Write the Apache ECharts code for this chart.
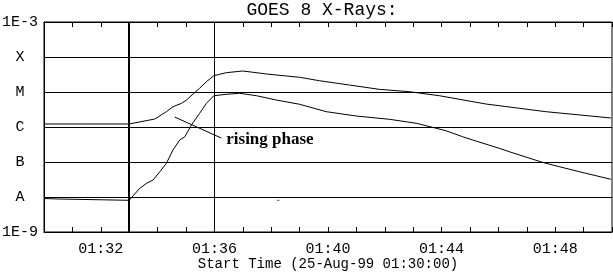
<!DOCTYPE html>
<html>
<head>
<meta charset="utf-8">
<script src="https://cdn.jsdelivr.net/npm/echarts@6/dist/echarts.min.js"></script>
<style>
  html, body { margin: 0; padding: 0; background: #fff; }
  #chart { width: 613px; height: 275px; }
</style>
</head>
<body>
<div id="chart"></div>
<script>
// Minutes after 01:30:00 and flux (W/m^2)
var longTimes = [0, 1.5, 3.0, 3.90, 4.31, 4.54, 4.84, 5.02, 5.25, 5.48, 5.72, 5.98, 6.42, 6.99, 7.36, 7.83, 9.00, 9.70, 10.76, 11.81, 12.86, 13.92, 15.56, 17.67, 19.96];
var longFlux  = [1.22e-6, 1.22e-6, 1.22e-6, 1.69e-6, 2.74e-6, 3.80e-6, 4.75e-6, 5.90e-6, 8.77e-6, 1.28e-5, 1.97e-5, 2.92e-5, 3.56e-5, 3.98e-5, 3.66e-5, 3.27e-5, 2.63e-5, 2.10e-5, 1.58e-5, 1.19e-5, 1.02e-5, 7.83e-6, 4.54e-6, 2.74e-6, 1.81e-6];

var shortTimes = [0, 0.5, 0.55, 3.0, 3.37, 3.61, 3.84, 4.08, 4.31, 4.54, 4.78, 4.96, 5.19, 5.48, 5.72, 5.98, 6.42, 6.89, 7.48, 8.18, 9.00, 9.94, 10.99, 12.16, 13.10, 13.68, 14.15, 14.74, 15.09, 16.03, 16.38, 17.55, 18.14, 19.08, 19.96];
var shortFlux  = [9.06e-9, 8.77e-9, 8.05e-9, 8.05e-9, 1.77e-8, 2.46e-8, 3.06e-8, 5.28e-8, 9.18e-8, 2.20e-7, 4.26e-7, 5.28e-7, 1.14e-6, 2.46e-6, 4.75e-6, 7.83e-6, 8.59e-6, 9.18e-6, 7.83e-6, 5.90e-6, 4.46e-6, 2.74e-6, 2.06e-6, 1.66e-6, 1.28e-6, 9.79e-7, 7.83e-7, 5.28e-7, 4.26e-7, 2.46e-7, 1.97e-7, 9.79e-8, 7.35e-8, 4.75e-8, 3.21e-8];

var dotTimes = [8.25];
var dotFlux  = [8.05e-9];

// Y tick labels, from 1E-9 up to 1E-3
var yExponents  = [-9, -8, -7, -6, -5, -4, -3];
var yTickLabels = ['1E-9', 'A', 'B', 'C', 'M', 'X', '1E-3'];
// X tick labels (minutes after 01:30)
var xLabelMinutes = [2, 6, 10, 14, 18];
var xTickLabels   = ['01:32', '01:36', '01:40', '01:44', '01:48'];

// Marker lines (minutes) and annotation
var thickMarkMinute = 3;
var thinMarkMinute = 6;
var xClassFlux = 1e-4;
var annotText = 'rising phase';
var annotFrom = [4.60, 1.93e-6];
var annotTo   = [6.24, 4.85e-7];
var annotTextAt = [6.40, 4.27e-7];

function zip(a, b) { return a.map(function (v, i) { return [v, b[i]]; }); }

var monoFont = '"Liberation Mono", "DejaVu Sans Mono", monospace';

var chart = echarts.init(document.getElementById('chart'), null, { renderer: 'canvas' });
chart.setOption({
  animation: false,
  backgroundColor: '#ffffff',
  title: {
    text: 'GOES 8 X-Rays:',
    left: 322, top: 1, textAlign: 'center', padding: 0,
    textStyle: { fontFamily: monoFont, fontSize: 18, fontWeight: 'normal', color: '#000' }
  },
  grid: { left: 44, right: 1, top: 22, bottom: 43, containLabel: false, outerBoundsMode: 'none',
          show: true, borderColor: '#000', borderWidth: 1, backgroundColor: 'transparent' },
  xAxis: [{
    type: 'value', min: 0, max: 20, interval: 1, position: 'bottom',
    axisLine: { show: true, lineStyle: { color: '#000', width: 1 } },
    axisTick: { show: true, inside: true, length: 5, lineStyle: { color: '#000' } },
    splitLine: { show: false },
    axisLabel: {
      margin: 10, color: '#000', fontFamily: monoFont, fontSize: 15,
      formatter: function (v) { var i = xLabelMinutes.indexOf(Math.round(v)); return i >= 0 ? xTickLabels[i] : ''; }
    },
    name: 'Start Time (25-Aug-99 01:30:00)', nameLocation: 'middle', nameGap: 25, nameMoveOverlap: false,
    nameTextStyle: { color: '#000', fontFamily: monoFont, fontSize: 14, verticalAlign: 'top' }
  }, {
    type: 'value', min: 0, max: 20, interval: 1, position: 'top',
    axisLine: { show: true, lineStyle: { color: '#000', width: 1 } },
    axisTick: { show: true, inside: true, length: 5, lineStyle: { color: '#000' } },
    splitLine: { show: false },
    axisLabel: { show: false }
  }],
  yAxis: {
    type: 'log', logBase: 10, min: 1e-9, max: 1e-3,
    axisLine: { show: true, lineStyle: { color: '#000' } },
    axisTick: { show: false },
    splitLine: { show: true, lineStyle: { color: '#000', width: 1 } },
    axisLabel: {
      margin: 24, align: 'center', color: '#000', fontFamily: monoFont, fontSize: 15,
      formatter: function (v) { var e = Math.round(Math.log10(v)); var i = yExponents.indexOf(e); return i >= 0 ? yTickLabels[i] : ''; }
    }
  },
  series: [{
    type: 'line', data: zip(longTimes, longFlux), showSymbol: false, symbol: 'none',
    lineStyle: { color: '#000', width: 1 }, silent: true,
    markLine: {
      silent: true, symbol: ['none', 'none'], label: { show: false },
      data: [
        { xAxis: thickMarkMinute, lineStyle: { color: '#000', width: 2, type: 'solid' } },
        { xAxis: thinMarkMinute, lineStyle: { color: '#000', width: 1, type: 'solid' } },
        { yAxis: xClassFlux, lineStyle: { color: '#000', width: 2, type: 'solid' } },
        [{ coord: annotFrom, lineStyle: { color: '#000', width: 1, type: 'solid' } }, { coord: annotTo }]
      ]
    }
  }, {
    type: 'line', data: zip(shortTimes, shortFlux), showSymbol: false, symbol: 'none',
    lineStyle: { color: '#000', width: 1 }, silent: true,
    markPoint: {
      silent: true, symbol: 'circle', symbolSize: 1, itemStyle: { color: 'rgba(0,0,0,0)' },
      data: [{ coord: annotTextAt, label: {
        show: true, formatter: annotText, position: 'right', distance: 0,
        color: '#000', fontFamily: '"Liberation Serif", "Times New Roman", serif', fontWeight: 'bold', fontSize: 17
      } }]
    }
  }, {
    type: 'scatter', data: zip(dotTimes, dotFlux), symbol: 'rect', symbolSize: [2, 1],
    itemStyle: { color: '#000' }, silent: true
  }]
});
</script>
</body>
</html>
